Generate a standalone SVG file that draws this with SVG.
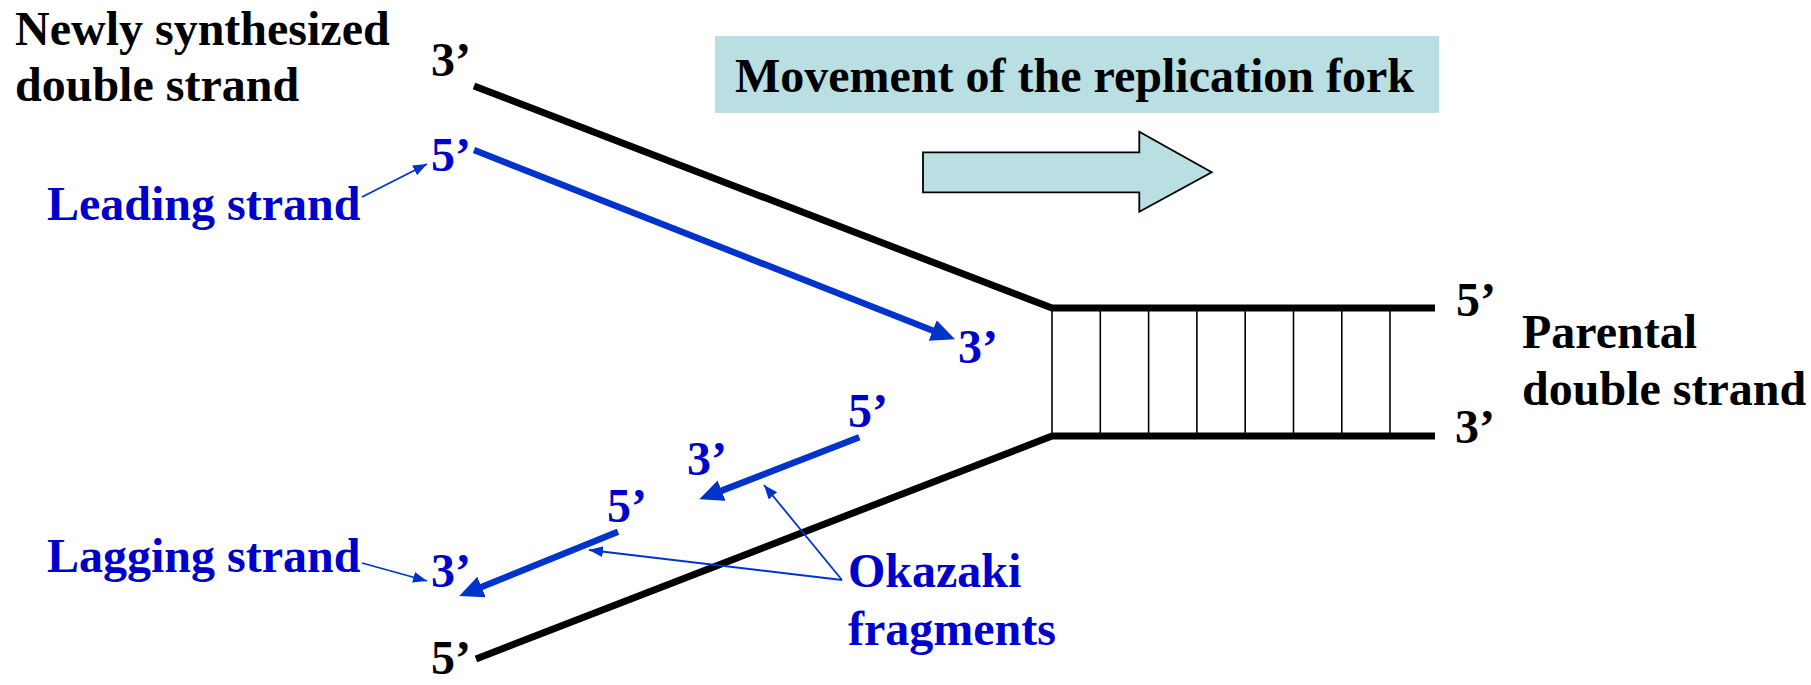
<svg xmlns="http://www.w3.org/2000/svg" width="1811" height="685" viewBox="0 0 1811 685">
<style>
text{font-family:"Liberation Serif","Times New Roman",serif;font-weight:bold;font-size:48px}
.k{fill:#000}
.b{fill:#0000cc}
.strand{fill:none;stroke:#000;stroke-width:7;stroke-linejoin:miter}
.rung{stroke:#000;stroke-width:1.6}
.thick{stroke:#0033cc;stroke-width:6.5;fill:none}
.thin{stroke:#0033cc;stroke-width:1.8;fill:none}
</style>
<defs>
<marker id="bigHead" markerUnits="userSpaceOnUse" markerWidth="26" markerHeight="24" refX="4" refY="11" orient="auto">
<path d="M0,0 L24,11 L0,22 z" fill="#0033cc"/>
</marker>
<marker id="smallHead" markerUnits="userSpaceOnUse" markerWidth="16" markerHeight="12" refX="14" refY="5.5" orient="auto">
<path d="M0,0 L14,5.5 L0,11 z" fill="#0033cc"/>
</marker>
</defs>
<g id="movement-label">
<rect x="715" y="36" width="724" height="77" fill="#b9dfe2"/>
<text class="k" x="735" y="92">Movement of the replication fork</text>
</g>
<g id="movement-arrow">
<path d="M923,152.3 L1139.3,152.3 L1139.3,131.7 L1211.7,172.3 L1139.3,211.7 L1139.3,192.3 L923,192.3 z" fill="#b9dfe2" stroke="#000" stroke-width="1.8"/>
</g>
<g id="parental-duplex">
<polyline class="strand" points="474,86 1052,308 1435,308"/>
<polyline class="strand" points="476,659 1052,436 1435,436"/>
<line class="rung" x1="1052" y1="308" x2="1052" y2="436"/>
<line class="rung" x1="1100.3" y1="308" x2="1100.3" y2="436"/>
<line class="rung" x1="1148.6" y1="308" x2="1148.6" y2="436"/>
<line class="rung" x1="1196.9" y1="308" x2="1196.9" y2="436"/>
<line class="rung" x1="1245.2" y1="308" x2="1245.2" y2="436"/>
<line class="rung" x1="1293.5" y1="308" x2="1293.5" y2="436"/>
<line class="rung" x1="1341.8" y1="308" x2="1341.8" y2="436"/>
<line class="rung" x1="1390" y1="308" x2="1390" y2="436"/>
</g>
<g id="connectors">
<line class="thick" x1="474" y1="150" x2="936.4" y2="332" marker-end="url(#bigHead)"/>
<line class="thick" x1="859.3" y1="437.3" x2="717.9" y2="492.1" marker-end="url(#bigHead)"/>
<line class="thick" x1="618" y1="531.7" x2="477.8" y2="588.5" marker-end="url(#bigHead)"/>
<line class="thin" x1="362" y1="197" x2="427" y2="164" marker-end="url(#smallHead)"/>
<line class="thin" x1="362" y1="563" x2="427" y2="581" marker-end="url(#smallHead)"/>
<line class="thin" x1="842" y1="580" x2="764" y2="485" marker-end="url(#smallHead)"/>
<line class="thin" x1="842" y1="580" x2="589" y2="550" marker-end="url(#smallHead)"/>
</g>
<g id="newly-label">
<text class="k" x="15" y="45">Newly synthesized</text>
<text class="k" x="15" y="101">double strand</text>
</g>
<g id="parental-label">
<text class="k" x="1522" y="348">Parental</text>
<text class="k" x="1522" y="405">double strand</text>
</g>
<g id="leading-label">
<text class="b" x="47" y="220">Leading strand</text>
</g>
<g id="lagging-label">
<text class="b" x="47" y="572">Lagging strand</text>
</g>
<g id="okazaki-label">
<text class="b" x="848" y="587">Okazaki</text>
<text class="b" x="848" y="645">fragments</text>
</g>
<g id="end-labels">
<text class="k" x="431" y="76">3’</text>
<text class="b" x="431" y="171">5’</text>
<text class="b" x="958" y="363">3’</text>
<text class="k" x="1456" y="316">5’</text>
<text class="k" x="1455" y="443">3’</text>
<text class="b" x="848" y="427">5’</text>
<text class="b" x="687" y="475">3’</text>
<text class="b" x="607" y="522">5’</text>
<text class="b" x="431" y="587">3’</text>
<text class="k" x="431" y="674">5’</text>
</g>
</svg>
